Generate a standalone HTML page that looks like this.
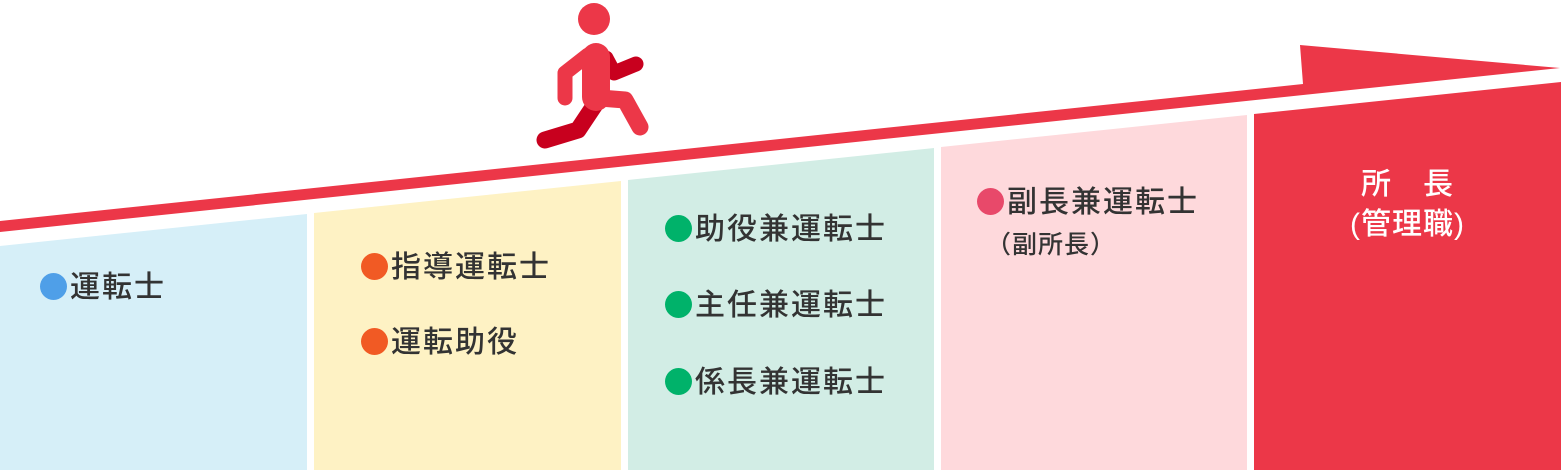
<!DOCTYPE html>
<html><head><meta charset="utf-8"><style>
html,body{margin:0;padding:0;background:#fff;}
body{width:1561px;height:470px;position:relative;overflow:hidden;font-family:"Liberation Sans","Noto Sans CJK JP",sans-serif;}
.t{position:absolute;font-size:30px;color:#333;white-space:nowrap;line-height:1;letter-spacing:2px;font-weight:500}
.d{display:inline-block;width:27px;height:27px;border-radius:50%;vertical-align:-3px;margin-right:3px}
</style></head><body>
<svg width="1561" height="470" style="position:absolute;left:0;top:0">
<polygon points="0,221 1303,84 1300,45 1560,68 0,232" fill="#ec3748"/>
<polygon points="0,246 307,214 307,470 0,470" fill="#d6eff8"/>
<polygon points="314,213 621,181 621,470 314,470" fill="#fef2c4"/>
<polygon points="628,180 934,148 934,470 628,470" fill="#d2ede5"/>
<polygon points="941,147 1247,115 1247,470 941,470" fill="#fed9dc"/>
<polygon points="1254,114 1561,82 1561,470 1254,470" fill="#ec3748"/>
<g stroke-linecap="round" stroke-linejoin="round" fill="none">
<polyline points="606,58 614,73 636,64" stroke="#c8001e" stroke-width="15"/>
<polyline points="596,103 578,130 545,140" stroke="#c8001e" stroke-width="17"/>
<polyline points="600,98 625,100 640,127" stroke="#ec3748" stroke-width="17"/>
<polyline points="588,55 565,73 565,98" stroke="#ec3748" stroke-width="15"/>
<line x1="596" y1="57" x2="596" y2="97" stroke="#ec3748" stroke-width="28"/>
</g>
<circle cx="594" cy="19" r="16" fill="#ec3748"/>
</svg>
<div class="t" style="left:40px;top:273px"><span class="d" style="background:#4f9fe8"></span>運転士</div>
<div class="t" style="left:361px;top:253px"><span class="d" style="background:#f15a24"></span>指導運転士</div>
<div class="t" style="left:361px;top:328px"><span class="d" style="background:#f15a24"></span>運転助役</div>
<div class="t" style="left:665px;top:215px"><span class="d" style="background:#00b26a"></span>助役兼運転士</div>
<div class="t" style="left:665px;top:291px"><span class="d" style="background:#00b26a"></span>主任兼運転士</div>
<div class="t" style="left:665px;top:368px"><span class="d" style="background:#00b26a"></span>係長兼運転士</div>
<div class="t" style="left:977px;top:188px"><span class="d" style="background:#e8496a"></span>副長兼運転士</div>
<div class="t" style="left:986px;top:233px;font-size:25px;letter-spacing:1px">（副所長）</div>
<div class="t" style="left:1254px;width:307px;text-align:center;top:165px;color:#fff;font-size:30px;line-height:40px;letter-spacing:1px">所　長<br>(管理職)</div>
</body></html>
